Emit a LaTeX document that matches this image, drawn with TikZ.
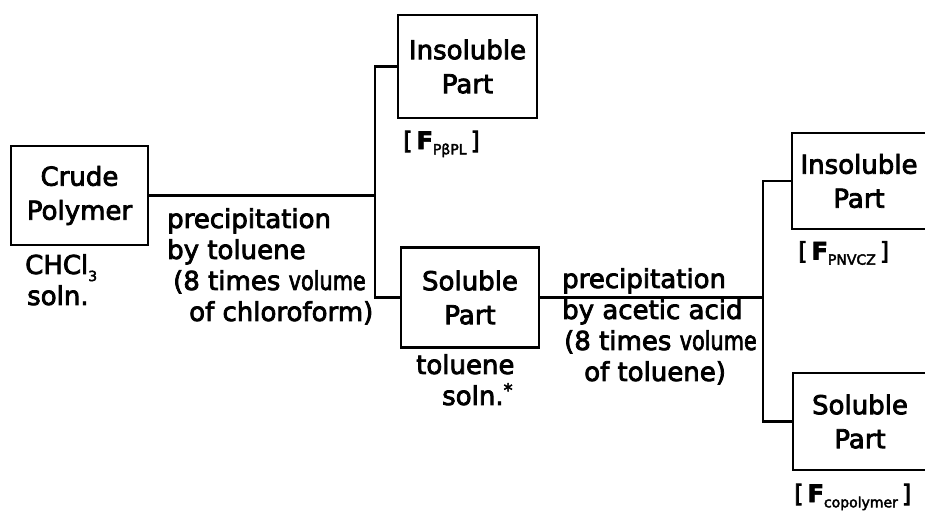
\documentclass[tikz,border=0pt]{standalone}
\usepackage{fontspec}
\setmainfont{DejaVu Sans}[FakeBold=3]
\usepackage{tikz}
\usetikzlibrary{%
  calc,%
  positioning%
}
\tikzset{>=latex}
\tikzset{
  fracbox/.style={draw, line width=2.4pt, align=center, inner sep=0pt,
    font=\fontsize{26}{34}\selectfont},
  note/.style={align=left, inner sep=0pt, anchor=north west,
    font=\fontsize{26}{31}\selectfont},
  link/.style={line width=2.4pt}
}
\newcommand{\fraclab}[1]{{\fontsize{24}{24}\selectfont
  [\,\textbf{F}\raisebox{-0.4ex}{\fontsize{14}{14}\selectfont #1}\,]}}

\begin{document}
\begin{tikzpicture}[x=1pt,y=-1pt]
    \useasboundingbox (0,0) rectangle (925,512);
    \clip (0,0) rectangle (925,512);
    % boxes
    \node[fracbox, minimum width=137pt, minimum height=99pt] (crude) at (79.5,195.5)
    {Crude\\Polymer};
    \node[fracbox, minimum width=139pt, minimum height=103pt] (insa) at (467.5,66.5)
    {Insoluble\\Part};
    \node[fracbox, minimum width=138pt, minimum height=100pt] (sola) at (470,297.5)
    {Soluble\\Part};
    \node[fracbox, minimum width=134pt, minimum height=96pt] (insb) at (859,181)
    {Insoluble\\Part};
    \node[fracbox, minimum width=134pt, minimum height=97pt] (solb) at (860,421.5)
    {Soluble\\Part};
    % junctions
    \coordinate (ja) at (375,0);
    \coordinate (jb) at (763,0);
    \draw[link] (crude.east) -- (crude.east -| ja);
    \draw[link] (insa.west) -- (insa.west -| ja) -- (sola.west -| ja) -- (sola.west);
    \draw[link] (sola.east) -- (sola.east -| jb);
    \draw[link] (insb.west) -- (insb.west -| jb) -- (solb.west -| jb) -- (solb.west);
    % texts
    \node[note] (solva) at (25,254) {CHCl\raisebox{-0.5ex}{\fontsize{14}{14}\selectfont 3}\\
    \hspace*{2pt}soln.};
    \node[note] (preca) at (167,208) {precipitation\\by toluene\\
    \hspace*{6pt}(8 times \scalebox{0.8}[1]{volume}\\\hspace*{22pt}of chloroform)};
    \node[note] (solvb) at (416,354) {toluene\\\hspace*{26pt}soln.\raisebox{0.6ex}{\fontsize{18}{18}\selectfont *}};
    \node[note] (precb) at (562,268) {precipitation\\by acetic acid\\
    \hspace*{2pt}(8 times \scalebox{0.8}[1]{volume}\\\hspace*{22pt}of toluene)};
    \node[anchor=west, inner sep=0pt] (laba) at (403,144) {\fraclab{PβPL}};
    \node[anchor=west, inner sep=0pt] (labb) at (798,253) {\fraclab{PNVCZ}};
    \node[anchor=west, inner sep=0pt] (labc) at (794,497) {\fraclab{copolymer}};
\end{tikzpicture}
\end{document}
